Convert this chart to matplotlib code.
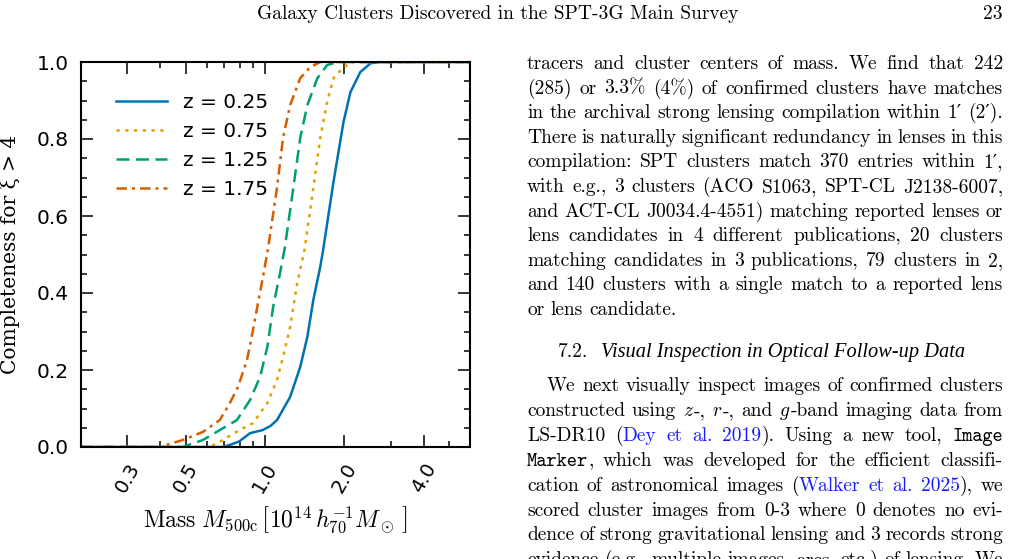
import numpy as np
import matplotlib
matplotlib.use('Agg')
import matplotlib.pyplot as plt
from matplotlib.ticker import FixedLocator, NullFormatter

plt.rcParams['mathtext.fontset'] = 'cm'

W, H = 1022, 559

# completeness curves (mass in 1e14 h70^-1 Msun)
mass_z025 = [0.20, 0.69, 0.74, 0.80, 0.877, 0.98, 1.05, 1.11, 1.245, 1.36, 1.447, 1.525,
             1.62, 1.66, 1.818, 1.985, 2.11, 2.30, 2.52, 2.75, 6.0]
comp_z025 = [0.0, 0.0, 0.006, 0.015, 0.036, 0.044, 0.055, 0.07, 0.13, 0.208, 0.286, 0.382,
             0.468, 0.51, 0.688, 0.844, 0.922, 0.974, 0.997, 1.0, 1.0]

mass_z075 = [0.20, 0.60, 0.65, 0.69, 0.80, 0.90, 1.02, 1.11, 1.17, 1.245, 1.325, 1.41,
             1.525, 1.62, 1.72, 1.82, 1.985, 2.17, 6.0]
comp_z075 = [0.0, 0.0, 0.007, 0.018, 0.044, 0.062, 0.114, 0.174, 0.234, 0.312, 0.426, 0.51,
             0.673, 0.803, 0.896, 0.958, 0.987, 1.0, 1.0]

mass_z125 = [0.20, 0.486, 0.58, 0.673, 0.782, 0.877, 0.957, 1.02, 1.073, 1.14, 1.19, 1.28,
             1.36, 1.447, 1.58, 1.72, 1.88, 6.0]
comp_z125 = [0.0, 0.0, 0.018, 0.044, 0.07, 0.122, 0.182, 0.26, 0.364, 0.452, 0.52, 0.673,
             0.803, 0.888, 0.958, 0.992, 1.0, 1.0]

mass_z175 = [0.20, 0.397, 0.486, 0.58, 0.673, 0.735, 0.789, 0.854, 0.90, 0.94, 0.982, 1.027,
             1.11, 1.17, 1.245, 1.36, 1.485, 1.62, 6.0]
comp_z175 = [0.0, 0.0, 0.018, 0.039, 0.07, 0.114, 0.156, 0.226, 0.304, 0.374, 0.442, 0.517,
             0.673, 0.803, 0.888, 0.958, 0.987, 1.0, 1.0]

labels = ['z = 0.25', 'z = 0.75', 'z = 1.25', 'z = 1.75']
colors = ['#0072B2', '#E69F00', '#009E73', '#D55E00']
styles = ['-', (0, (1.3, 2.2)), (0, (5.2, 2.6)), (0, (4.2, 2.0, 1.2, 2.0))]

xticks_major = [0.3, 0.5, 1.0, 2.0, 4.0]
xticks_minor = [0.4, 0.6, 0.7, 0.8, 0.9, 3.0, 5.0, 6.0]
xtick_labels = ['0.3', '0.5', '1.0', '2.0', '4.0']

# page text next to the figure
header = 'Galaxy Clusters Discovered in the SPT-3G Main Survey'
page_no = '23'
para1 = [
    [('tracers and cluster centers of mass. We find that 242', 'rm')],
    [('(285) or 3.3% (4%) of confirmed clusters have matches', 'rm')],
    [('in the archival strong lensing compilation within 1′ (2′).', 'rm')],
    [('There is naturally significant redundancy in lenses in this', 'rm')],
    [('compilation: SPT clusters match 370 entries within 1′,', 'rm')],
    [('with e.g., 3 clusters (ACO S1063, SPT-CL J2138-6007,', 'rm')],
    [('and ACT-CL J0034.4-4551) matching reported lenses or', 'rm')],
    [('lens candidates in 4 different publications, 20 clusters', 'rm')],
    [('matching candidates in 3 publications, 79 clusters in 2,', 'rm')],
    [('and 140 clusters with a single match to a reported lens', 'rm')],
    [('or lens candidate.', 'rm')],
]
heading = [('7.2.', 'rm'), ('  ', 'rm'), ('Visual Inspection in Optical Follow-up Data', 'it')]
para2 = [
    [('We next visually inspect images of confirmed clusters', 'rm')],
    [('constructed using ', 'rm'), ('$z$', 'rm'), ('-, ', 'rm'), ('$r$', 'rm'), ('-, and ', 'rm'),
     ('$g$', 'rm'), ('-band imaging data from', 'rm')],
    [('LS-DR10 (', 'rm'), ('Dey et al. 2019', 'link'), ('). Using a new tool, ', 'rm'), ('Image', 'tt')],
    [('Marker', 'tt'), (', which was developed for the efficient classifi-', 'rm')],
    [('cation of astronomical images (', 'rm'), ('Walker et al. 2025', 'link'), ('), we', 'rm')],
    [('scored cluster images from 0-3 where 0 denotes no evi-', 'rm')],
    [('dence of strong gravitational lensing and 3 records strong', 'rm')],
    [('evidence (e.g., multiple images, arcs, etc.) of lensing. We', 'rm')],
]

fig = plt.figure(figsize=(W / 100, H / 100), dpi=100)
ax = fig.add_axes([81 / W, 1 - 447 / H, 389 / W, 385 / H])

series = [(mass_z025, comp_z025), (mass_z075, comp_z075),
          (mass_z125, comp_z125), (mass_z175, comp_z175)]
for (m, c), lab, col, ls in zip(series, labels, colors, styles):
    ax.plot(m, c, color=col, ls=ls, lw=1.8, label=lab)

ax.set_xscale('log')
ax.set_xlim(0.2, 6.0)
ax.set_ylim(0, 1)
ax.xaxis.set_major_locator(FixedLocator(xticks_major))
ax.xaxis.set_minor_locator(FixedLocator(xticks_minor))
ax.xaxis.set_minor_formatter(NullFormatter())
ax.set_xticklabels(xtick_labels, rotation=60, ha='center', fontsize=14)
ax.set_yticks([0, 0.2, 0.4, 0.6, 0.8, 1.0])
ax.set_yticks(np.arange(0, 1.0001, 0.05), minor=True)
ax.set_yticklabels(['0.0', '0.2', '0.4', '0.6', '0.8', '1.0'], fontsize=14.5)
ax.tick_params(which='both', direction='in', top=True, right=True, width=1.1)
ax.tick_params(which='major', length=8.5)
ax.tick_params(which='minor', length=4.5)
ax.tick_params(axis='y', pad=9)
ax.tick_params(axis='x', pad=9)
for s in ax.spines.values():
    s.set_linewidth(1.5)

ax.set_ylabel('Completeness for ξ > 4', family='DejaVu Serif', fontsize=14.5, labelpad=12)
ax.set_xlabel(r'$\mathrm{Mass}\ M_{500\mathrm{c}}\,\left[10^{14}\,h_{70}^{-1}M_\odot\,\right]$',
              fontsize=17, labelpad=6)
ax.legend(loc='upper left', frameon=False, fontsize=14.5, handlelength=2.5,
          handletextpad=0.8, labelspacing=0.5, bbox_to_anchor=(0.07, 0.94), borderaxespad=0)

# ---- page text ----
body_family = ['cmr10', 'DejaVu Serif']
fs = 14
ink = 'black'


def fx(px):
    return px / W


def fy(py):
    return 1 - py / H


def style_kw(st):
    if st == 'tt':
        return dict(family=['cmtt10', 'DejaVu Sans Mono'], color=ink)
    if st == 'it':
        return dict(family='Liberation Serif', style='italic', fontsize=fs + 0.7, color=ink)
    if st == 'link':
        return dict(family=body_family, color='#1a1aff')
    return dict(family=body_family, color=ink)


renderer = fig.canvas.get_renderer()


def piece_width(txt, st):
    kw = dict(fontsize=fs)
    kw.update(style_kw(st))
    t = fig.text(0, 0, txt, **kw)
    w = t.get_window_extent(renderer).width
    t.remove()
    return w


def words_of(chunks):
    words = [[]]
    for txt, st in chunks:
        parts = txt.split(' ')
        for i, p in enumerate(parts):
            if i > 0:
                words.append([])
            if p:
                words[-1].append((p, st))
    return [w for w in words if w]


def draw_line(chunks, x0, x1, base, justify=True):
    words = words_of(chunks)
    widths = [[piece_width(p, st) for p, st in w] for w in words]
    total = sum(sum(ws) for ws in widths)
    space = 0.333 * fs * 100 / 72
    if justify and len(words) > 1:
        gap = (x1 - x0 - total) / (len(words) - 1)
    else:
        gap = space
    x = x0
    for w, ws in zip(words, widths):
        for (p, st), pw in zip(w, ws):
            kw = dict(fontsize=fs)
            kw.update(style_kw(st))
            fig.text(fx(x), fy(base), p, va='baseline', ha='left', **kw)
            x += pw
        x += gap


left, right = 527, 1003
fig.text(fx(498), fy(19), header, family=body_family, fontsize=fs, ha='center',
         va='baseline', color=ink)
fig.text(fx(right), fy(19), page_no, family=body_family, fontsize=fs, ha='right',
         va='baseline', color=ink)

for k, line in enumerate(para1):
    draw_line(line, left, right, 69 + 24.6 * k, justify=(k < len(para1) - 1))

# section heading
x = 558
for txt, st in heading:
    kw = dict(fontsize=fs)
    kw.update(style_kw(st))
    t = fig.text(fx(x), fy(357), txt, va='baseline', ha='left', **kw)
    x += t.get_window_extent(renderer).width

for k, line in enumerate(para2):
    x0 = 547 if k == 0 else left
    draw_line(line, x0, right, 391 + 24.9 * k)

fig.savefig('out.png', dpi=100)
